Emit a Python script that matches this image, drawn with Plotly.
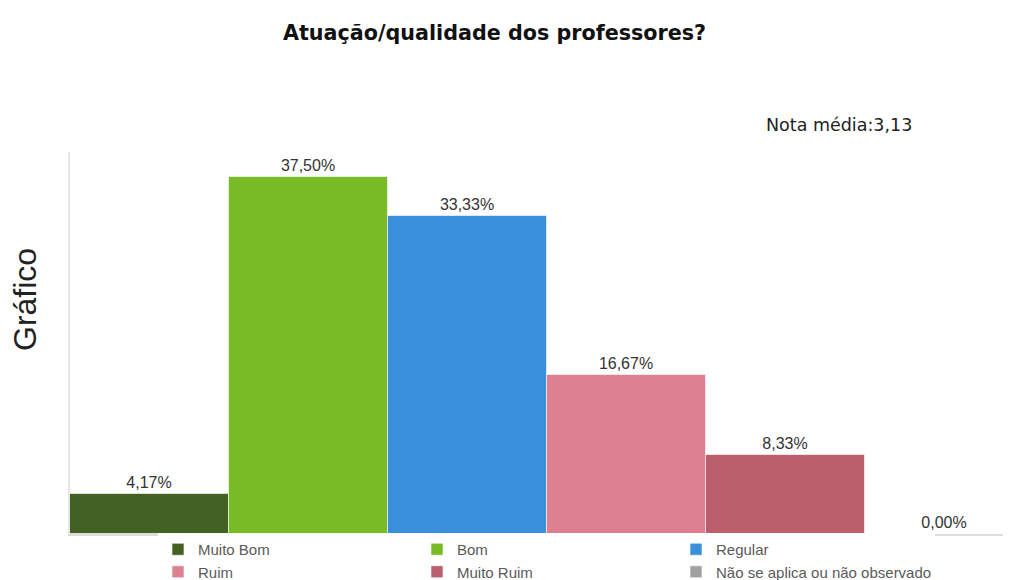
import plotly.graph_objects as go

categories = ["Muito Bom", "Bom", "Regular", "Ruim", "Muito Ruim", "Não se aplica ou não observado"]
values = [4.17, 37.50, 33.33, 16.67, 8.33, 0.00]
labels = ["4,17%", "37,50%", "33,33%", "16,67%", "8,33%", "0,00%"]
colors = ["#436122", "#78bb27", "#3a8fdb", "#dd808f", "#bc5f6c", "#a0a0a0"]

fig = go.Figure()
for i, (cat, v, lab, col) in enumerate(zip(categories, values, labels, colors)):
    fig.add_trace(go.Bar(
        x=[i], y=[v], name=cat, width=[1.0],
        marker=dict(color=col, line=dict(color="rgba(255,255,255,0.6)", width=1)),
        text=[lab], textposition="outside", cliponaxis=False,
        textfont=dict(family="Liberation Sans, Arial", size=16, color="#333333"),
    ))

# the page body has an 8px margin, so the figure is 1003x572 and all layout
# positions are given in figure pixels (reference pixels minus 8)
FW, FH = 1003, 572
L, R, T, B = 62, 1, 144, 46
PW = FW - L - R
PH = FH - T - B

def px(x):
    return (x - L) / PW

def py(y):
    return (FH - B - y) / PH

fig.update_layout(
    width=FW, height=FH,
    margin=dict(l=L, r=R, t=T, b=B, autoexpand=False),
    paper_bgcolor="white", plot_bgcolor="white",
    barmode="overlay", bargap=0,
    showlegend=True,
    title=dict(text="<b>Atuação/qualidade dos professores?</b>", x=486.5 / FW, xanchor="center",
               y=1 - 25 / FH, yanchor="middle",
               font=dict(family="DejaVu Sans", size=20.7, color="#111111")),
    xaxis=dict(range=[-0.5, 5.41], automargin=False,
               showticklabels=False, showgrid=False, zeroline=False,
               showline=True, linecolor="#dddddd", linewidth=2),
    yaxis=dict(range=[0, 40.1], automargin=False,
               showticklabels=False, showgrid=False, zeroline=False,
               showline=True, linecolor="#e6e6e6", linewidth=2),
    legend=dict(orientation="h", x=px(150), xanchor="left", y=py(525), yanchor="top",
                entrywidth=214, entrywidthmode="pixels",
                font=dict(family="Liberation Sans, Arial", size=15, color="#5a5a5a"),
                itemclick=False, tracegroupgap=0),
    annotations=[
        dict(text="Nota média:3,13", xref="paper", yref="paper", x=px(906), y=py(117),
             xanchor="right", yanchor="middle", showarrow=False,
             font=dict(family="DejaVu Sans", size=17.5, color="#222222")),
        dict(text="Gráfico", xref="paper", yref="paper", x=px(17), y=py(292),
             xanchor="center", yanchor="middle", showarrow=False, textangle=-90,
             font=dict(family="Liberation Sans, Arial", size=32, color="#222222")),
    ],
)

fig.write_html("out.html")
